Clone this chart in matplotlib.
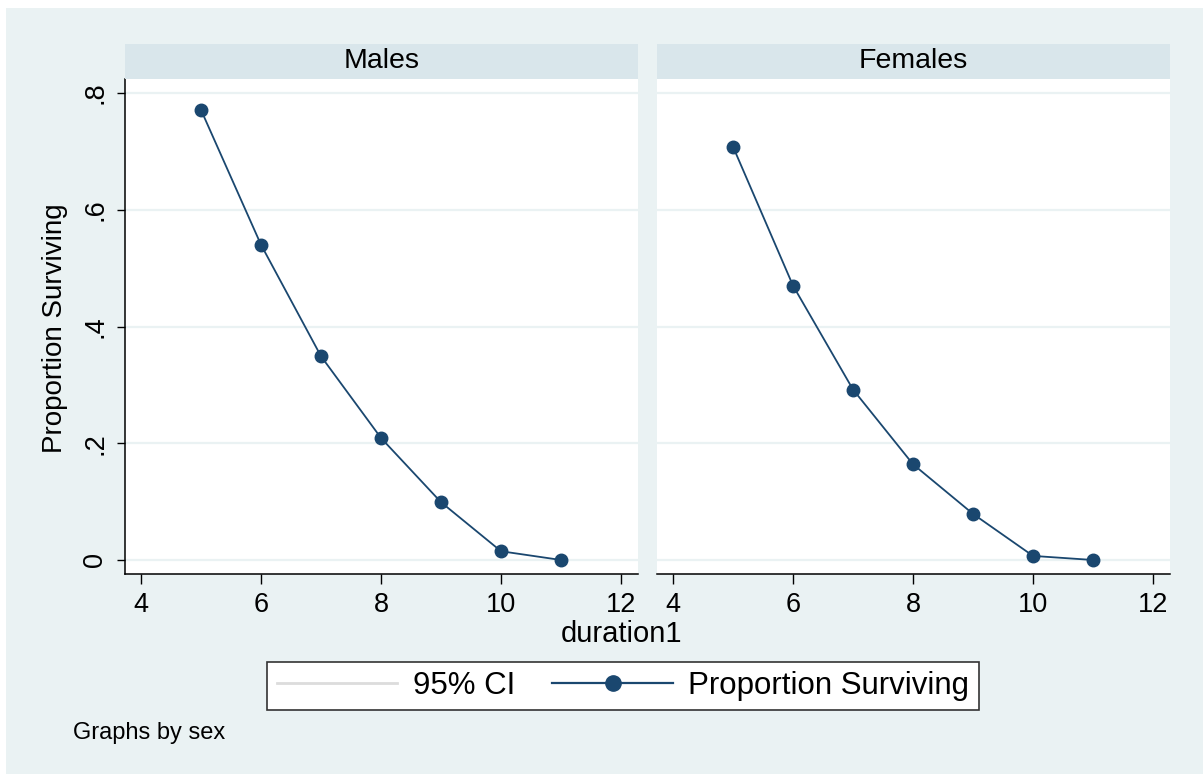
import matplotlib
matplotlib.use("Agg")
import matplotlib.pyplot as plt
from matplotlib.patches import Rectangle
from matplotlib.lines import Line2D

plt.rcParams['font.family'] = ['Liberation Sans', 'DejaVu Sans']

duration = [5, 6, 7, 8, 9, 10, 11]
males = [0.771, 0.540, 0.349, 0.209, 0.099, 0.015, 0.000]
females = [0.708, 0.470, 0.292, 0.164, 0.079, 0.007, 0.000]
panels = ["Males", "Females"]
yticks = [0, 0.2, 0.4, 0.6, 0.8]
yticklabels = ["0", ".2", ".4", ".6", ".8"]
xticks = [4, 6, 8, 10, 12]

W, H = 1203, 774
BG = "#EAF2F3"
STRIP = "#D9E6EB"
NAVY = "#1A476F"

fig = plt.figure(figsize=(W / 100, H / 100), dpi=100)
fig.patch.set_facecolor("white")
fig.patches.append(Rectangle((6 / W, 0), 1 - 6 / W, 1 - 8 / H,
                             transform=fig.transFigure, facecolor=BG,
                             edgecolor="none", zorder=-10))

def fx(px):
    return px / W

def fy(py):
    return 1 - py / H

lefts = [125, 657]
pw = 513
top, bot = 79, 574
strip_top = 44

for i, (name, data) in enumerate(zip(panels, [males, females])):
    ax = fig.add_axes([fx(lefts[i]), fy(bot), pw / W, (bot - top) / H])
    ax.set_facecolor("white")
    ax.set_xlim(3.733, 12.283)
    ax.set_ylim(-0.024, 0.824)
    for yv in yticks:
        ax.axhline(yv, color=BG, lw=1.6, zorder=0)
    ax.plot(duration, data, color=NAVY, lw=1.3, marker="o", ms=9,
            markeredgecolor=NAVY, markerfacecolor=NAVY, zorder=3)
    ax.set_xticks(xticks)
    ax.set_xticklabels([str(v) for v in xticks], fontsize=19.5)
    ax.tick_params(axis="x", length=7, width=1, pad=6, color="black")
    for s in ["top", "right"]:
        ax.spines[s].set_visible(False)
    ax.spines["bottom"].set_linewidth(1.1)
    if i == 0:
        ax.set_yticks(yticks)
        ax.set_yticklabels(yticklabels, fontsize=19.5, rotation=90, va="center")
        ax.tick_params(axis="y", length=6, width=1, pad=6)
        ax.spines["left"].set_linewidth(1.1)
    else:
        ax.set_yticks([])
        ax.spines["left"].set_visible(False)
    # strip
    sax = fig.add_axes([fx(lefts[i]), fy(top), pw / W, (top - strip_top) / H])
    sax.set_facecolor(STRIP)
    sax.set_xticks([])
    sax.set_yticks([])
    for s in sax.spines.values():
        s.set_visible(False)
    sax.text(0.5, 0.5, name, ha="center", va="center", fontsize=20.5,
             transform=sax.transAxes)

fig.text(fx(55), fy(328), "Proportion Surviving", rotation=90,
         ha="center", va="center", fontsize=20)
fig.text(fx(621), fy(634), "duration1", ha="center", va="center", fontsize=21)
fig.text(fx(73), fy(733), "Graphs by sex", ha="left", va="center", fontsize=17)

handles = [Line2D([], [], color="#DCDCDC", lw=2),
           Line2D([], [], color=NAVY, lw=1.6, marker="o", ms=11)]
leg = fig.legend(handles, ["95% CI", "Proportion Surviving"], ncol=2,
                 loc="center", bbox_to_anchor=(fx(623), fy(686)),
                 fontsize=22.5, frameon=True, fancybox=False,
                 handlelength=3.85, handletextpad=0.5, columnspacing=1.2,
                 borderpad=0.3, edgecolor="#333333", framealpha=1)
leg.get_frame().set_linewidth(1.2)

fig.savefig("out.png", dpi=100, facecolor=fig.get_facecolor())
